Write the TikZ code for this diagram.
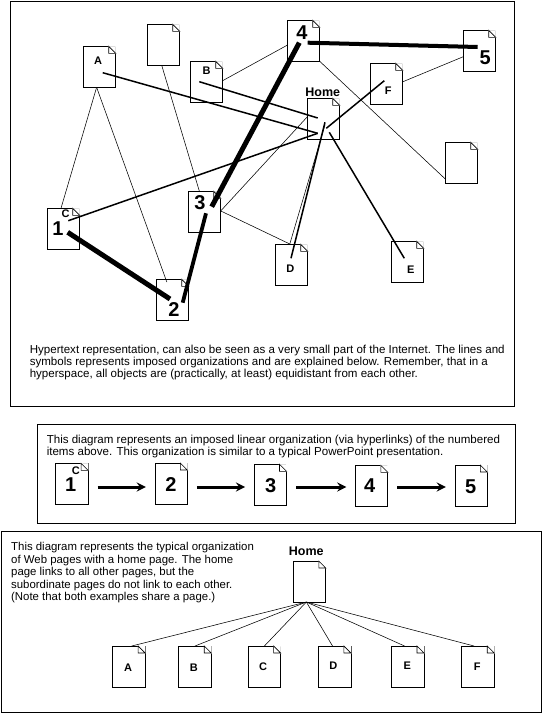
\documentclass[tikz,border=0pt]{standalone}
\usepackage{fontspec}
\setmainfont{Liberation Sans}
\usepackage{xcolor}
\tikzset{
  pagebox/.style={draw=black,fill=white,line width=0.7pt,minimum width=32.4pt,minimum height=41pt,inner sep=0pt,outer sep=0pt},
  framebox/.style={draw=black,line width=0.9pt},
  thinlink/.style={draw=black,line width=0.55pt},
  midlink/.style={draw=black,line width=1.5pt},
  heavylink/.style={draw=black,line width=4pt},
  rowarrow/.style={draw=black,line width=3pt,-stealth,shorten <=9.5pt,shorten >=9pt},
  letterlabel/.style={font=\fontsize{11}{11}\selectfont\bfseries,inner sep=0pt},
  numlabel/.style={font=\fontsize{20}{20}\selectfont\bfseries,inner sep=0pt},
  homelabel/.style={font=\fontsize{12.5}{12.5}\selectfont\bfseries,inner sep=0pt},
  bodytext/.style={font=\fontsize{11.55}{12}\selectfont,align=left,anchor=north west,inner sep=0pt}
}
\newcommand{\docpage}[2]{
  \node[pagebox] (#1) at (#2) {};
  \filldraw[white,line width=0.7pt] (#1.north east) -- ([xshift=-7pt]#1.north east) -- ([yshift=-7pt]#1.north east) -- cycle;
  \draw[line width=0.6pt] ([xshift=-7pt]#1.north east) -- ([xshift=-7pt,yshift=-7pt]#1.north east) -- ([yshift=-7pt]#1.north east) -- cycle;
}

\begin{document}
\begin{tikzpicture}[x=1pt,y=-1pt]
  \useasboundingbox (0,0) rectangle (544,715);
  \fill[white] (0,0) rectangle (544,715);
  % frames
  \draw[framebox] (10.3,1.3) rectangle (514.7,406.3);
  \draw[framebox] (37.3,424.3) rectangle (515,523.3);
  \draw[framebox] (1.3,531.5) rectangle (541.5,712.5);

  % top picture
  \docpage{na}{99.5,66.8}
  \docpage{x1}{163.5,44.8}
  \docpage{nb}{206.5,81.8}
  \docpage{n1}{63.5,228.8}
  \docpage{n2}{172.5,299.8}
  \docpage{n3}{204.5,211.8}
  \docpage{n4}{303.5,40.8}
  \docpage{n5}{479.5,50.8}
  \docpage{nf}{386.5,83.8}
  \docpage{home}{323.5,118.8}
  \docpage{x2}{461.5,162.8}
  \docpage{nd}{291.5,264.8}
  \docpage{ne}{407.5,261.8}

  \node[letterlabel] (la) at (98,61) {A};
  \node[letterlabel] (lb) at (206.7,70.7) {B};
  \node[letterlabel] (lc) at (65.7,214) {C};
  \node[letterlabel] (ld) at (290.3,268.3) {D};
  \node[letterlabel] (le) at (410.7,269.3) {E};
  \node[letterlabel] (lf) at (388.3,90.7) {F};
  \node[homelabel] (lh) at (322.7,92.7) {Home};
  \node[numlabel] (l1) at (58,229) {1};
  \node[numlabel] (l2) at (174,309.3) {2};
  \node[numlabel] (l3) at (200,202.7) {3};
  \node[numlabel] (l4) at (302,32.3) {4};
  \node[numlabel] (l5) at (485.3,57.3) {5};

  \draw[thinlink] (na.-98) -- (n1.97);
  \draw[thinlink,shorten >=-3pt] (na.-98) -- (n2.108);
  \draw[thinlink] (x1.-95) -- (n3.104);
  \draw[thinlink] (nb.4) -- (n4.195);
  \draw[thinlink] (n3.3) -- (home.173);
  \draw[thinlink] (n3.3) -- (nd.93);
  \draw[thinlink] (nd.95) -- ([shift={(1.5,6)}]home.center);
  \draw[thinlink] (n4.south east) -- (x2.225);
  \draw[thinlink] (nf.7) -- (n5.200);

  \draw[midlink] ([shift={(3.2,5.9)}]na.center) -- ([shift={(-5.8,14.5)}]home.center);
  \draw[midlink] ([shift={(-7.2,-0.1)}]nb.center) -- ([shift={(-5.8,-0.8)}]home.center);
  \draw[midlink] ([shift={(4.8,-8.1)}]n1.center) -- ([shift={(-5.8,14.5)}]home.center);
  \draw[midlink] ([shift={(-2.2,-3.1)}]nf.center) -- ([shift={(2.8,9.5)}]home.center);
  \draw[midlink] ([shift={(-0.5,-6.5)}]nd.center) -- ([shift={(1.5,3.5)}]home.center);
  \draw[midlink] ([shift={(-3.2,-3.5)}]ne.center) -- ([shift={(5.8,13.5)}]home.center);

  \draw[heavylink,line width=5pt] ([shift={(4.2,3.5)}]n1.center) -- ([shift={(-2.5,-0.8)}]n2.center);
  \draw[heavylink,line width=3.8pt] ([shift={(10.2,2.9)}]n2.center) -- ([shift={(1.5,1.5)}]n3.center);
  \draw[heavylink,line width=5pt] ([shift={(7.2,-5.1)}]n3.center) -- ([shift={(-4.2,1.9)}]n4.center);
  \draw[heavylink] ([shift={(4.2,1.9)}]n4.center) -- ([shift={(-1.8,-3.8)}]n5.center);

  \node[bodytext] (t1) at (29.6,345) {Hypertext representation, can also be seen as a very small part of the Internet. The lines and\\symbols represents imposed organizations and are explained below. Remember, that in a\\hyperspace, all objects are (practically, at least) equidistant from each other.};

  % linear row
  \node[bodytext] (t2) at (46.6,434.5) {This diagram represents an imposed linear organization (via hyperlinks) of the numbered\\items above. This organization is similar to a typical PowerPoint presentation.};
  \docpage{r1}{71.9,483.8}
  \docpage{r2}{171.1,483.5}
  \docpage{r3}{270.3,484.8}
  \docpage{r4}{371.6,485.8}
  \docpage{r5}{471.1,485.5}
  \node[letterlabel] (rc) at (75.9,470.7) {C};
  \node[numlabel] (q1) at (70.7,485) {1};
  \node[numlabel] (q2) at (171,485) {2};
  \node[numlabel] (q3) at (270.8,485.3) {3};
  \node[numlabel] (q4) at (369.7,485.7) {4};
  \node[numlabel] (q5) at (470.6,486.3) {5};
  \draw[rowarrow] ([yshift=-3.2pt]r1.east) -- ([yshift=-3.5pt]r2.west);
  \draw[rowarrow] ([yshift=-3.5pt]r2.east) -- ([yshift=-2.2pt]r3.west);
  \draw[rowarrow] ([yshift=-2.2pt]r3.east) -- ([yshift=-1.2pt]r4.west);
  \draw[rowarrow] ([yshift=-1.2pt]r4.east) -- ([yshift=-1.5pt]r5.west);

  % home page tree
  \node[bodytext,font=\fontsize{11.4}{12.5}\selectfont] (t3) at (11,542.5) {This diagram represents the typical organization\\of Web pages with a home page. The home\\page links to all other pages, but the\\subordinate pages do not link to each other.\\(Note that both examples share a page.)};
  \docpage{t0}{309.6,581.5}
  \docpage{ta}{128.9,666.5}
  \docpage{tb}{195,666.5}
  \docpage{tc}{264.4,666.5}
  \docpage{td}{334.7,666.5}
  \docpage{te}{407.8,666.5}
  \docpage{tf}{478,666.5}
  \node[homelabel] (th) at (306.3,551.7) {Home};
  \node[letterlabel] (sa) at (128,667.3) {A};
  \node[letterlabel] (sb) at (193.9,668) {B};
  \node[letterlabel] (sc) at (263,667) {C};
  \node[letterlabel] (sd) at (333.4,666) {D};
  \node[letterlabel] (se) at (407.2,666) {E};
  \node[letterlabel] (sf) at (477.2,667) {F};
  \draw[thinlink] (t0.-99) -- (ta.82);
  \draw[thinlink] (t0.-99) -- (tb.north);
  \draw[thinlink] (t0.-99) -- (tc.north);
  \draw[thinlink] (t0.-99) -- (td.96);
  \draw[thinlink] (t0.-99) -- (te.99);
  \draw[thinlink] (t0.-99) -- (tf.101);
\end{tikzpicture}
\end{document}
